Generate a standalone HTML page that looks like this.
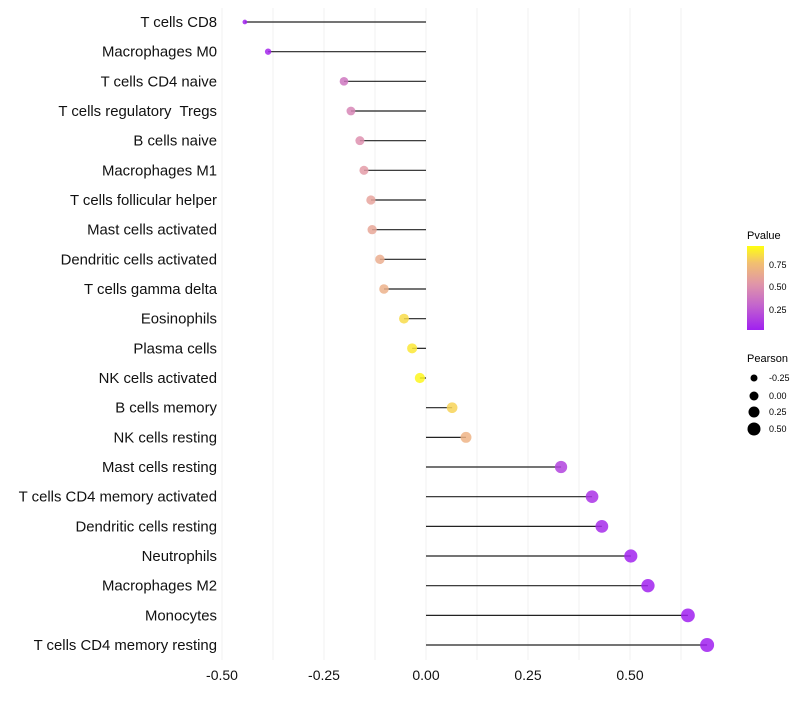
<!DOCTYPE html>
<html><head><meta charset="utf-8"><style>
body{margin:0;background:#fff;font-family:"Liberation Sans",sans-serif}
text{white-space:pre}
</style></head><body>
<svg id="chart" width="800" height="700" xmlns="http://www.w3.org/2000/svg">
<defs><linearGradient id="pg" x1="0" y1="1" x2="0" y2="0">
<stop offset="0" stop-color="#a020f0"/><stop offset="0.3" stop-color="#c466cc"/><stop offset="0.55" stop-color="#e096a8"/><stop offset="0.8" stop-color="#f2c070"/><stop offset="1" stop-color="#ffff10"/></linearGradient></defs>
<g id="grid"></g><g id="marks"></g><g id="labels"></g>
<g font-size="10">
<text x="747" y="239" font-size="11">Pvalue</text>
<rect x="747" y="246" width="17" height="84" fill="url(#pg)"/>
<text x="769" y="268" font-size="9">0.75</text><text x="769" y="290" font-size="9">0.50</text><text x="769" y="313" font-size="9">0.25</text>
</g>
<g font-size="9">
<text x="747" y="362" font-size="11">Pearson</text>
<circle cx="754" cy="378" r="3.5"/><text x="769" y="381">-0.25</text>
<circle cx="754" cy="396" r="4.5"/><text x="769" y="399">0.00</text>
<circle cx="754" cy="412" r="5.5"/><text x="769" y="415">0.25</text>
<circle cx="754" cy="429" r="6.5"/><text x="769" y="432">0.50</text>
</g>
</svg>
<script>
const categories=["T cells CD8","Macrophages M0","T cells CD4 naive","T cells regulatory  Tregs","B cells naive","Macrophages M1","T cells follicular helper","Mast cells activated","Dendritic cells activated","T cells gamma delta","Eosinophils","Plasma cells","NK cells activated","B cells memory","NK cells resting","Mast cells resting","T cells CD4 memory activated","Dendritic cells resting","Neutrophils","Macrophages M2","Monocytes","T cells CD4 memory resting"];
const pearson=[-0.444,-0.387,-0.201,-0.184,-0.162,-0.152,-0.135,-0.132,-0.113,-0.103,-0.054,-0.034,-0.015,0.064,0.098,0.331,0.407,0.431,0.502,0.544,0.642,0.689];
const pvalues=[0.01,0.03,0.38,0.45,0.5,0.55,0.6,0.62,0.66,0.68,0.88,0.92,0.97,0.85,0.7,0.15,0.08,0.05,0.02,0.01,0.002,0.001];
const xTicks=[-0.5,-0.25,0,0.25,0.5];
const xTickLabels=["-0.50","-0.25","0.00","0.25","0.50"];
const NS="http://www.w3.org/2000/svg";
const x=v=>426+v*408;
const y=i=>22+i*29.667;
const r=v=>2+5*Math.sqrt(Math.max(0,v+0.45)/1.14);
const stops=[[0,[160,32,240]],[0.3,[196,102,204]],[0.55,[228,156,168]],[0.8,[244,196,112]],[1,[255,255,16]]];
function col(p){for(let k=1;k<stops.length;k++){if(p<=stops[k][0]){const a=stops[k-1],b=stops[k],t=(p-a[0])/(b[0]-a[0]);return 'rgb('+a[1].map((c,j)=>Math.round(c+(b[1][j]-c)*t)).join(',')+')';}}return 'rgb(255,255,16)';}
function mk(t,at,parent){const e=document.createElementNS(NS,t);for(const k in at)e.setAttribute(k,at[k]);parent.appendChild(e);return e;}
const grid=document.getElementById('grid'),marks=document.getElementById('marks'),labels=document.getElementById('labels');
for(let v=-0.5;v<=0.7;v+=0.125){const g=mk('line',{x1:x(v),x2:x(v),y1:8,y2:660,stroke:'#f0f0f0','stroke-width':1},grid);

}
xTicks.forEach((t,i)=>{const e=mk('text',{x:x(t),y:680,'text-anchor':'middle','font-size':14,fill:'#111'},labels);e.textContent=xTickLabels[i];

});
categories.forEach((c,i)=>{
const t=mk('text',{x:217,y:y(i)+5,'text-anchor':'end','font-size':14.9,fill:'#111'},labels);t.textContent=c;


const l=mk('line',{x1:x(0),x2:x(pearson[i]),y1:y(i),y2:y(i),stroke:'#222','stroke-width':1.2},marks);


const d=mk('circle',{cx:x(pearson[i]),cy:y(i),r:r(pearson[i]),fill:col(pvalues[i]),'fill-opacity':0.85},marks);


});
</script>
</body></html>
